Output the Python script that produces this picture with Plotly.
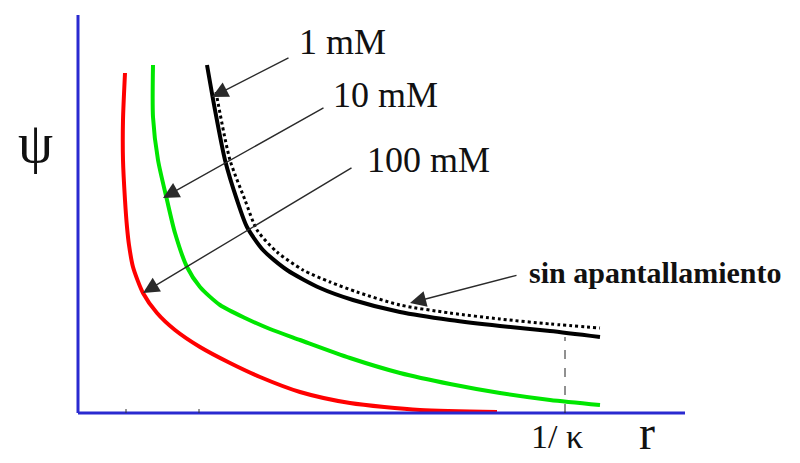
import plotly.graph_objects as go

# Schematic data (r and psi in arbitrary units)
red_r = [0.47, 0.45, 0.45, 0.47, 0.49, 0.51, 0.55, 0.65, 0.79, 0.97, 1.22, 1.52, 1.82, 2.22, 2.72, 3.42, 4.19]
red_psi = [3.40, 2.93, 2.53, 2.13, 1.86, 1.68, 1.46, 1.20, 1.00, 0.83, 0.66, 0.50, 0.36, 0.21, 0.10, 0.03, 0.01]

green_r = [0.75, 0.75, 0.80, 0.89, 0.97, 1.09, 1.22, 1.42, 1.67, 1.92, 2.22, 2.72, 3.22, 3.72, 4.22, 4.72, 5.22]
green_psi = [3.48, 2.96, 2.53, 2.13, 1.80, 1.46, 1.26, 1.08, 0.95, 0.84, 0.73, 0.55, 0.40, 0.29, 0.20, 0.13, 0.08]

black_r = [1.29, 1.37, 1.47, 1.59, 1.69, 1.85, 2.09, 2.42, 2.75, 3.22, 3.72, 4.22, 4.72, 5.22]
black_psi = [3.48, 3.03, 2.53, 2.13, 1.86, 1.63, 1.43, 1.25, 1.13, 1.01, 0.93, 0.87, 0.82, 0.76]

dot_r = [1.38, 1.52, 1.67, 1.79, 1.99, 2.25, 2.52, 2.79, 3.22, 3.72, 4.22, 4.72, 5.22]
dot_psi = [3.21, 2.53, 2.13, 1.83, 1.61, 1.43, 1.31, 1.21, 1.08, 1.00, 0.94, 0.89, 0.85]

kappa_r = 4.87
kappa_psi = 0.76
tick_r = [0.48, 1.21]

labels = ["1 mM", "10 mM", "100 mM"]
label_pos = [(2.64, 3.71), (3.07, 3.18), (3.50, 2.53)]
arrow_tail = [(2.12, 3.56), (2.47, 3.06), (2.75, 2.46)]
arrow_tip = [(1.34, 3.16), (0.85, 2.15), (0.65, 1.20)]

sin_label = "sin apantallamiento"
sin_pos = (5.77, 1.41)
sin_tail = (4.40, 1.38)
sin_tip = (3.32, 1.10)

serif = "Liberation Serif, Times New Roman, serif"

fig = go.Figure()

# axes (blue)
fig.add_shape(type="line", x0=0, y0=0, x1=0, y1=3.98, line=dict(color="#2a2ad0", width=3))
fig.add_shape(type="line", x0=0, y0=0, x1=6.07, y1=0, line=dict(color="#2a2ad0", width=3))
for t in tick_r:
    fig.add_shape(type="line", x0=t, y0=0, x1=t, y1=0.04, line=dict(color="#333333", width=1))

spl = dict(shape="spline", smoothing=0.7)
fig.add_trace(go.Scatter(x=red_r, y=red_psi, mode="lines", line=dict(color="#ff0000", width=4, **spl), hoverinfo="skip"))
fig.add_trace(go.Scatter(x=green_r, y=green_psi, mode="lines", line=dict(color="#00e600", width=4, **spl), hoverinfo="skip"))
fig.add_trace(go.Scatter(x=dot_r, y=dot_psi, mode="lines", line=dict(color="#000000", width=3, dash="dot", **spl), hoverinfo="skip"))
fig.add_trace(go.Scatter(x=black_r, y=black_psi, mode="lines", line=dict(color="#000000", width=4, **spl), hoverinfo="skip"))

# dashed 1/kappa marker
fig.add_shape(type="line", x0=kappa_r, y0=0, x1=kappa_r, y1=kappa_psi, line=dict(color="#222222", width=1, dash="dash"))

for lab, (lx, ly), (tx, ty), (hx, hy) in zip(labels, label_pos, arrow_tail, arrow_tip):
    fig.add_annotation(x=lx, y=ly, text=lab, showarrow=False, font=dict(family=serif, size=36, color="#111111"))
    fig.add_annotation(x=hx, y=hy, ax=tx, ay=ty, xref="x", yref="y", axref="x", ayref="y", text="",
                       showarrow=True, arrowhead=2, arrowsize=2.3, arrowwidth=1.4, arrowcolor="#2a2a2a")

fig.add_annotation(x=sin_pos[0], y=sin_pos[1], text="<b>" + sin_label + "</b>", showarrow=False,
                   font=dict(family=serif, size=30, color="#111111"))
fig.add_annotation(x=sin_tip[0], y=sin_tip[1], ax=sin_tail[0], ay=sin_tail[1], xref="x", yref="y", axref="x", ayref="y",
                   text="", showarrow=True, arrowhead=2, arrowsize=2.3, arrowwidth=1.4, arrowcolor="#2a2a2a")

fig.add_annotation(x=-0.43, y=2.70, text="ψ", showarrow=False, font=dict(family=serif, size=56, color="#111111"))
fig.add_annotation(x=5.69, y=-0.48, yanchor="bottom", text="r", showarrow=False, font=dict(family=serif, size=48, color="#111111"))
fig.add_annotation(x=4.79, y=-0.23, text="1/ κ", showarrow=False, font=dict(family=serif, size=34, color="#111111"))

fig.update_layout(
    width=800, height=463,
    margin=dict(l=0, r=0, t=0, b=0),
    paper_bgcolor="white", plot_bgcolor="white",
    showlegend=False,
    xaxis=dict(range=[-0.70, 7.30], visible=False, fixedrange=True),
    yaxis=dict(range=[-0.58, 4.05], visible=False, fixedrange=True),
)

fig.write_html("out.html")
